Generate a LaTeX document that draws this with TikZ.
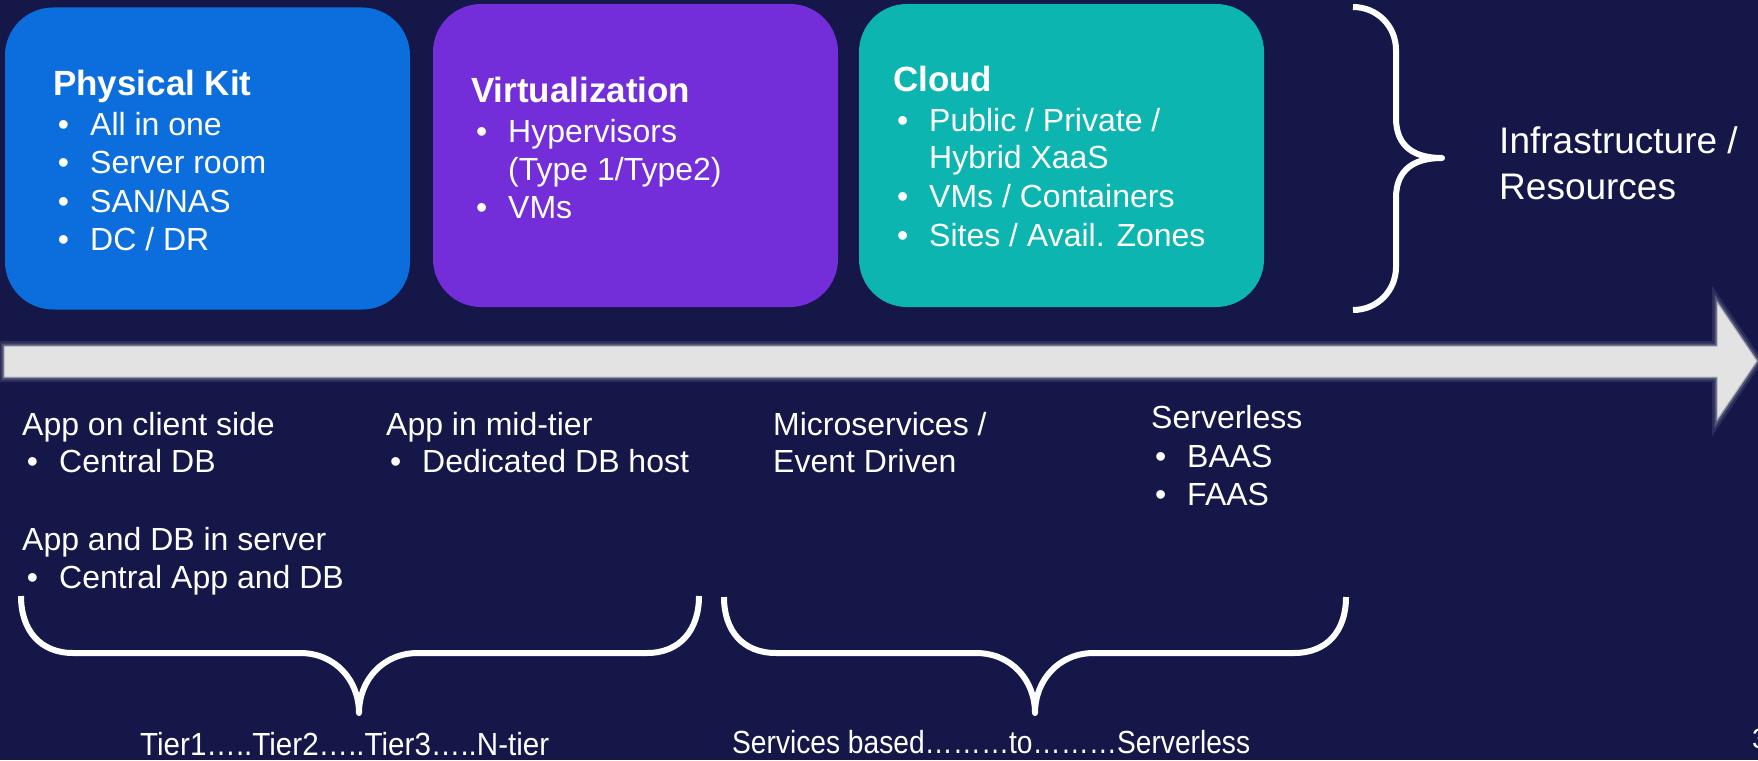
\documentclass[tikz,border=0pt]{standalone}
\usepackage{fontspec}
\setmainfont{Liberation Sans}
\usepackage{graphicx}
\definecolor{bg}{RGB}{20,23,72}
\definecolor{kitblue}{RGB}{12,110,221}
\definecolor{virtpurple}{RGB}{115,45,217}
\definecolor{cloudteal}{RGB}{13,181,176}
\definecolor{arrowgrey}{RGB}{227,227,227}
\newcommand{\itemdot}{\llap{•\hspace{21pt}}}
\begin{document}
\begin{tikzpicture}[x=1pt,y=1pt,
  panel/.style={rounded corners=48pt, inner sep=0pt, draw=none},
  txt/.style={text=white, anchor=base west, inner sep=0pt, font=\fontsize{32}{38}\selectfont},
  head/.style={txt, font=\fontsize{35}{42}\selectfont\bfseries},
  side/.style={txt, font=\fontsize{37}{44}\selectfont},
  brace/.style={draw=white, line width=6pt, line join=round}]
\fill[bg] (0,0) rectangle (1758,-760);
\useasboundingbox (0,0) rectangle (1758,-760);

% three infrastructure panels
\node[panel, fill=kitblue, minimum width=405pt, minimum height=302pt] (kit) at (207.5,-158.5) {};
\node[panel, fill=virtpurple, minimum width=405pt, minimum height=303pt] (virt) at (635.5,-155.5) {};
\node[panel, fill=cloudteal, minimum width=405pt, minimum height=303pt] (cloud) at (1061.5,-155.5) {};

\node[head] (kit-h) at (53,-95) {Physical Kit};
\node[txt] (kit-1) at (90,-135) {\itemdot All in one};
\node[txt] (kit-2) at (90,-173) {\itemdot Server room};
\node[txt] (kit-3) at (90,-212) {\itemdot SAN/NAS};
\node[txt] (kit-4) at (90,-250) {\itemdot DC / DR};

\node[head] (virt-h) at (471,-102) {Virtualization};
\node[txt] (virt-1) at (508,-142) {\itemdot Hypervisors};
\node[txt] (virt-1b) at (508,-180) {(Type 1/Type2)};
\node[txt] (virt-2) at (508,-218) {\itemdot VMs};

\node[head] (cloud-h) at (893,-91) {Cloud};
\node[txt] (cloud-1) at (929,-131) {\itemdot Public / Private /};
\node[txt] (cloud-1b) at (929,-168) {Hybrid XaaS};
\node[txt] (cloud-2) at (929,-207) {\itemdot VMs / Containers};
\node[txt] (cloud-3) at (929,-246) {\itemdot Sites / Avail. Zones};

% brace grouping the panels
\draw[brace] (1353,-7) .. controls (1377,-7) and (1396,-26) .. (1396,-50)
  -- (1396,-118) .. controls (1396,-148) and (1416,-158) .. (1442,-158)
  .. controls (1416,-158) and (1396,-168) .. (1396,-198)
  -- (1396,-267) .. controls (1396,-291) and (1377,-310) .. (1353,-310);
\node[side] (infra-1) at (1499,-153) {Infrastructure /};
\node[side] (infra-2) at (1499,-199) {Resources};

% timeline arrow with soft halo
\path[draw=white, opacity=0.10, line width=10pt, line join=miter]
  (4,-346) -- (1717,-346) -- (1717,-302) -- (1757,-361) -- (1717,-420) -- (1717,-377) -- (4,-377) -- cycle;
\path[draw=white, opacity=0.18, line width=5pt, line join=miter]
  (4,-346) -- (1717,-346) -- (1717,-302) -- (1757,-361) -- (1717,-420) -- (1717,-377) -- (4,-377) -- cycle;
\path[fill=arrowgrey, draw=arrowgrey!75!bg, line width=1pt]
  (4,-346) -- (1717,-346) -- (1717,-302) -- (1757,-361) -- (1717,-420) -- (1717,-377) -- (4,-377) -- cycle;

% application architectures
\node[txt] (t1) at (22,-435) {App on client side};
\node[txt] (t1a) at (59,-472) {\itemdot Central DB};
\node[txt] (t0) at (22,-550) {App and DB in server};
\node[txt] (t0a) at (59,-588) {\itemdot Central App and DB};
\node[txt] (t3) at (386,-435) {App in mid-tier};
\node[txt] (t3a) at (422,-472) {\itemdot Dedicated DB host};
\node[txt] (ms) at (773,-435) {Microservices /};
\node[txt] (ms2) at (773,-472) {Event Driven};
\node[txt] (sl) at (1151,-428) {Serverless};
\node[txt] (sl1) at (1187,-467) {\itemdot BAAS};
\node[txt] (sl2) at (1187,-505) {\itemdot FAAS};

% lower braces
\draw[brace] (21,-596) .. controls (21,-630) and (40,-653) .. (73,-653)
  -- (300,-653) .. controls (335,-653) and (359,-680) .. (359,-713)
  .. controls (359,-680) and (383,-653) .. (418,-653)
  -- (647,-653) .. controls (680,-653) and (699,-630) .. (699,-596);
\draw[brace] (724,-597) .. controls (724,-631) and (743,-653) .. (776,-653)
  -- (976,-653) .. controls (1011,-653) and (1035,-680) .. (1035,-713)
  .. controls (1035,-680) and (1059,-653) .. (1094,-653)
  -- (1294,-653) .. controls (1327,-653) and (1346,-631) .. (1346,-597);

\node[txt] (tiers) at (140,-755) {\resizebox{409pt}{\height}{Tier1…..Tier2…..Tier3…..N-tier}};
\node[txt] (svc) at (732,-753) {\resizebox{518pt}{\height}{Services based………to………Serverless}};

\node[txt, font=\fontsize{28}{34}\selectfont] (pg) at (1752,-748) {3};
\end{tikzpicture}
\end{document}
